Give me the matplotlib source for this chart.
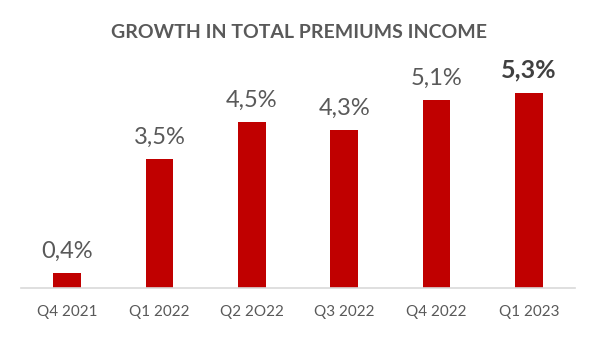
import matplotlib.pyplot as plt
import numpy as np

quarters = ["Q4 2021", "Q1 2022", "Q2 2O22", "Q3 2022", "Q4 2022", "Q1 2023"]
growth = [0.4, 3.5, 4.5, 4.3, 5.1, 5.3]
labels = ["0,4%", "3,5%", "4,5%", "4,3%", "5,1%", "5,3%"]

red = "#C00000"
grey = "#595959"
plt.rcParams['font.family'] = ['Lato', 'DejaVu Sans']

fig = plt.figure(figsize=(5.98, 3.39), dpi=100)
ax = fig.add_axes([21/598, 1 - 288/339, 554/598, 195/339 * 5.9/5.3])
x = np.arange(len(quarters))
ax.bar(x, growth, width=0.3, color=red)
ax.set_xlim(-0.5, len(quarters) - 0.5)
ax.set_ylim(0, 5.9)

for i, (v, lab) in enumerate(zip(growth, labels)):
    last = i == len(growth) - 1
    ax.annotate(lab, (i, v), xytext=(0, 8), textcoords="offset points",
                ha="center", va="bottom", fontsize=17 if not last else 18,
                color="#404040" if last else grey,
                fontweight="bold" if last else "normal")

ax.set_xticks(x)
ax.set_xticklabels(quarters, fontsize=11, color=grey)
ax.tick_params(axis="x", length=0, pad=12)
ax.set_yticks([])
for s in ["top", "right", "left"]:
    ax.spines[s].set_visible(False)
ax.spines["bottom"].set_color("#D9D9D9")
ax.spines["bottom"].set_linewidth(1.2)

fig.text(0.5, 1 - 33/339, "GROWTH IN TOTAL PREMIUMS INCOME", ha="center", va="center",
         fontsize=14, fontweight="bold", color=grey)

fig.savefig("out.png", dpi=100)
